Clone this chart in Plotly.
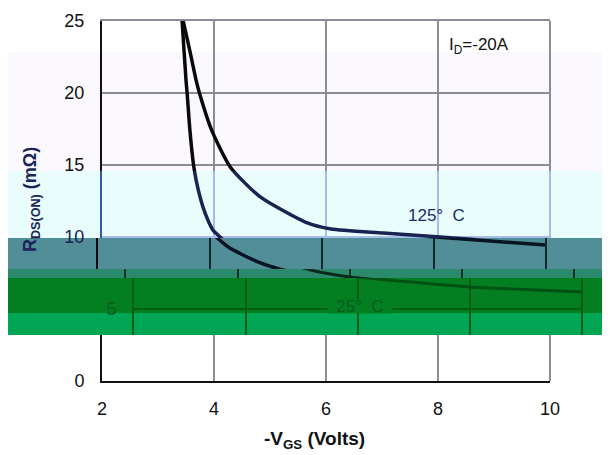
import plotly.graph_objects as go

# ---------------- data ----------------
vgs_25 = [3.43, 3.50, 3.52, 3.57, 3.64, 3.72, 3.84, 3.98, 4.11, 4.34, 4.82, 5.30, 6.0, 7.0, 8.0, 9.0, 10.0]
rds_25 = [25.0, 20.9, 20.0, 17.4, 14.86, 13.26, 11.67, 10.49, 10.0, 9.27, 8.33, 7.71, 7.22, 6.85, 6.53, 6.35, 6.18]

vgs_125 = [3.45, 3.57, 3.68, 3.74, 3.96, 4.29, 4.82, 5.63, 6.09, 7.02, 8.04, 9.0, 10.0]
rds_125 = [25.0, 22.9, 20.9, 20.0, 17.4, 14.86, 12.8, 11.04, 10.56, 10.28, 10.0, 9.72, 9.45]

x_ticks = [2, 4, 6, 8, 10]
y_ticks = [0, 5, 10, 15, 20, 25]
x_range = [2, 10]
y_range = [0, 25]

# ---------------- geometry (window pixels) ----------------
OFF = 8                     # page body margin around the plot div
W, H = 610 - OFF, 455 - OFF
PX_L, PX_R = 102, 550       # x = 2 .. 10
PY_0, PY_25 = 381, 21       # y = 0 .. 25
ppu = (PY_0 - PY_25) / (y_range[1] - y_range[0])

def val(py):
    return (PY_0 - py) / ppu

def px(x):
    return (x - OFF) / W

def py(y):
    return 1 - (y - OFF) / H

# strips: top, bottom, x shift, grid colour, curve colour, axis-line colour, tick label colour
strips = [
    dict(top=21, bot=171, sh=0, grid="#8c8c96", curve="#0a0a0a", line="#111111", lab="#111111", labels=True, w=3.5),
    dict(top=171, bot=238, sh=0, grid="#a9bde8", curve="#1a2252", line="#3a58a8", lab="#1a2252", labels=True, w=3.5),
    dict(top=238, bot=269, sh=-4, grid="#0e2a2e", curve="#061424", line="#0a0a0a", lab="#111111", labels=False, w=3.5),
    dict(top=269, bot=278, sh=24, grid="#0b3424", curve="#0b2a1e", line="#0b3424", lab="#111111", labels=False, w=3),
    dict(top=278, bot=335, sh=32, grid="#005f0c", curve="#005212", line="#005f0c", lab="#0a5a1a", labels=True, w=3),
    dict(top=335, bot=381, sh=0, grid="#8c8c96", curve="#0a0a0a", line="#111111", lab="#111111", labels=True, w=3.5),
]

fig = go.Figure()
layout = {}
shapes = []

# colour bands of the picture (paper coordinates, below everything)
bands = [
    (52, 171, "#fcf9fe"),
    (171, 238, "#e9fdfd"),
    (238, 269, "#528e98"),
    (269, 278, "#2b8a6c"),
    (278, 313, "#037f22"),
    (313, 335, "#00a653"),
]
for top, bot, col in bands:
    shapes.append(dict(type="rect", xref="paper", yref="paper", layer="below",
                       x0=px(6), x1=px(610), y0=py(bot), y1=py(top),
                       fillcolor=col, line=dict(width=0)))

for i, s in enumerate(strips, start=1):
    xa = "xaxis" if i == 1 else f"xaxis{i}"
    ya = "yaxis" if i == 1 else f"yaxis{i}"
    xr = "x" if i == 1 else f"x{i}"
    yr = "y" if i == 1 else f"y{i}"
    first = i == 1
    last = i == len(strips)
    layout[xa] = dict(
        domain=[px(PX_L + s["sh"]), min(1.0, px(PX_R + s["sh"]))],
        range=x_range, anchor=yr, automargin=False,
        tickvals=x_ticks, showgrid=True, gridcolor=s["grid"], gridwidth=2,
        zeroline=False, showticklabels=last, ticks="",
        tickfont=dict(family="Liberation Sans, Arial", size=18, color="#111111"),
        ticklabelstandoff=10,
        side="top" if first else "bottom",
        showline=first or last, linecolor=s["grid"] if first else "#111111", linewidth=2,
    )
    layout[ya] = dict(
        domain=[py(s["bot"]), py(s["top"])],
        range=[val(s["bot"]), val(s["top"])], anchor=xr, automargin=False,
        tickvals=y_ticks, showgrid=True, gridcolor=s["grid"], gridwidth=2,
        zeroline=False, showticklabels=s["labels"], ticks="",
        tickfont=dict(family="Liberation Sans, Arial", size=18, color=s["lab"]),
        ticklabelstandoff=12,
        showline=True, linecolor=s["line"], linewidth=2,
    )
    # right-hand frame edge of this strip
    xe = px(PX_R + s["sh"])
    shapes.append(dict(type="line", xref="paper", yref="paper",
                       x0=xe, x1=xe, y0=py(s["bot"]), y1=py(s["top"]), layer="above",
                       line=dict(color=s["grid"], width=2)))
    for vx, vy in ((vgs_125, rds_125), (vgs_25, rds_25)):
        fig.add_trace(go.Scatter(
            x=vx, y=vy, mode="lines", xaxis=xr, yaxis=yr,
            line=dict(color=s["curve"], width=s["w"], shape="spline", smoothing=0.6),
            showlegend=False, hoverinfo="skip",
        ))

annotations = [
    dict(text="I<sub>D</sub>=-20A", x=px(447), y=py(46), xanchor="left", yanchor="middle",
         font=dict(family="Liberation Sans, Arial", size=17, color="#111111")),
    dict(text="125°  C", x=px(436), y=py(215), xanchor="center", yanchor="middle",
         font=dict(family="Liberation Sans, Arial", size=17, color="#1a2a6a")),
    dict(text="25°  C", x=px(360), y=py(306), xanchor="center", yanchor="middle",
         bgcolor="#037f22", borderpad=0, height=13, width=64,
         font=dict(family="Liberation Sans, Arial", size=17, color="#0a5a1a")),
    dict(text="<b>-V<sub>GS</sub> (Volts)</b>", x=px(314), y=py(440), xanchor="center", yanchor="middle",
         font=dict(family="Liberation Sans, Arial", size=19, color="#111111")),
    dict(text="<b>R<sub>DS(ON)</sub> (mΩ)</b>", x=px(31), y=py(200), xanchor="center", yanchor="middle",
         textangle=-90, font=dict(family="Liberation Sans, Arial", size=18, color="#1b2358")),
    dict(text="<b>-I<sub>D</sub> (A)</b>", x=px(611), y=py(192), xanchor="center", yanchor="middle",
         textangle=-90, font=dict(family="Liberation Sans, Arial", size=18, color="#1b2358")),
]
for a in annotations:
    a.update(xref="paper", yref="paper", showarrow=False)

fig.update_layout(
    width=W, height=H, margin=dict(l=0, r=0, t=0, b=0, pad=0, autoexpand=False),
    paper_bgcolor="white", plot_bgcolor="rgba(0,0,0,0)",
    shapes=shapes, annotations=annotations, showlegend=False,
    **layout,
)
fig.write_html("out.html")
